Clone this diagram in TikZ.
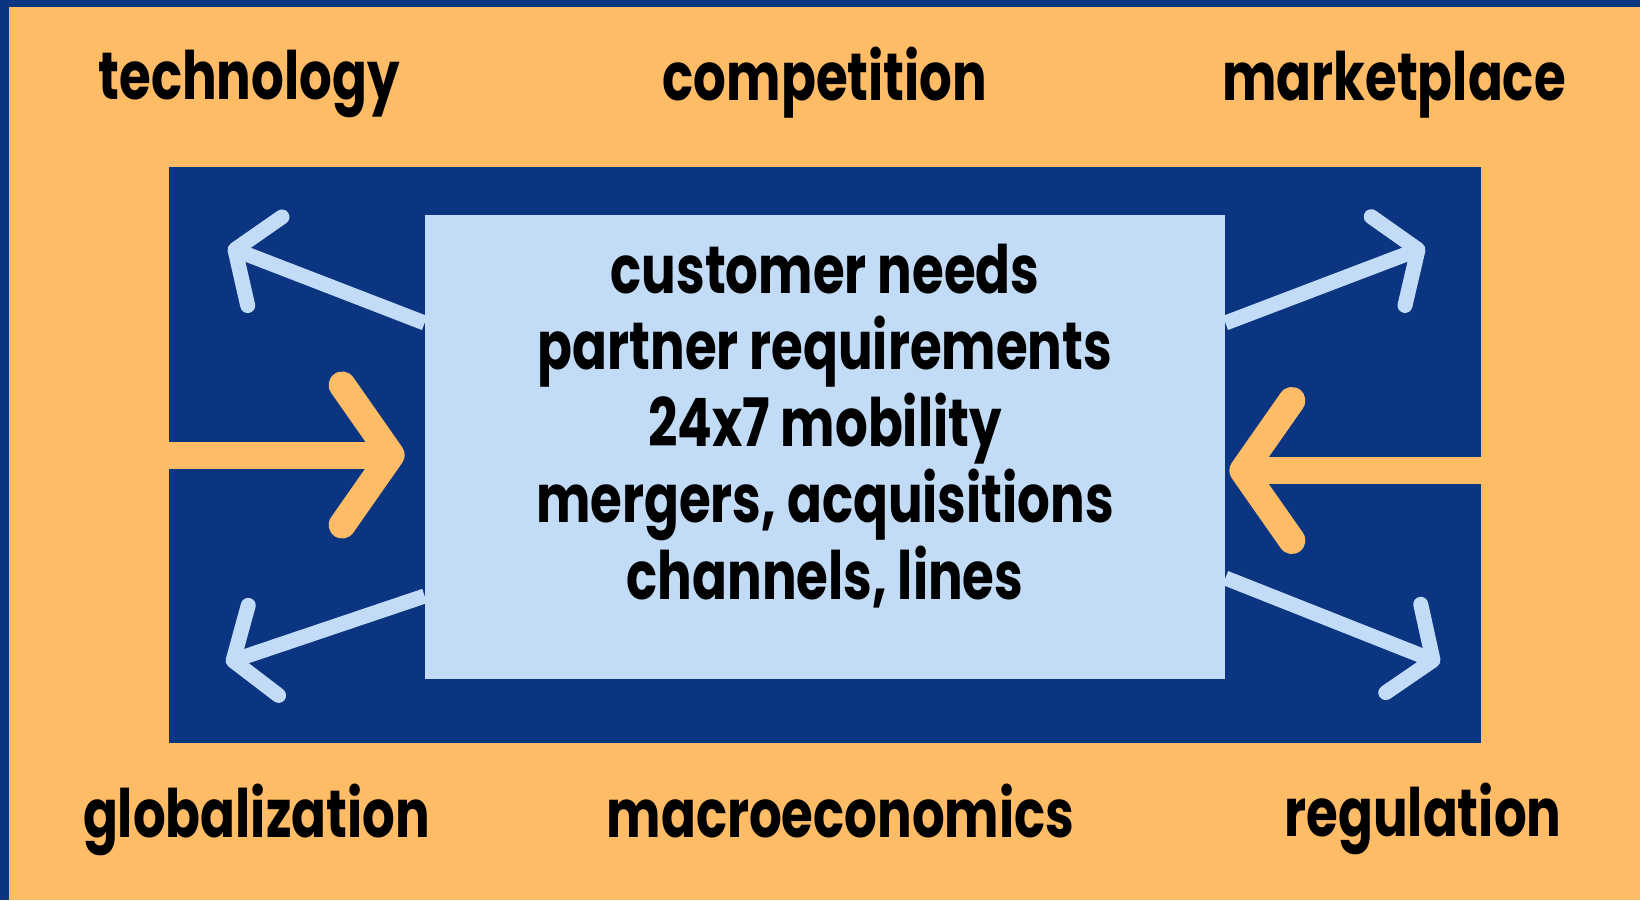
\documentclass[tikz,border=0pt]{standalone}
\usepackage{fontspec}
\setmainfont{Poppins}[FakeStretch=0.77]
\usetikzlibrary{arrows.meta}
\definecolor{sand}{HTML}{FFBC66}
\definecolor{navy}{HTML}{0B3580}
\definecolor{pale}{HTML}{C2DCF7}
\tikzset{
  force/.style={font=\fontsize{38}{42}\selectfont\bfseries, anchor=base},
  outarrow/.style={draw=pale, line width=.3cm, -{Straight Barb[length=.64cm, width=1.9cm, round]}},
  inarrow/.style={draw=sand, line width=.54cm, -{Straight Barb[length=.98cm, width=2.8cm, round]}},
}
\begin{document}
\begin{tikzpicture}
    \fill[sand] (0,0) rectangle (32.8,18);
    \fill[navy] (0,0) rectangle (.18,18);
    \fill[navy] (0,17.86) rectangle (32.8,18);
    \node[fill=navy, minimum width=26.24cm, minimum height=11.52cm, inner sep=0] (field) at (16.5,8.9) {};
    \node[fill=pale, minimum width=16cm, minimum height=9.28cm, inner sep=0] (needs) at (16.5,9.06) {};
    \node[font=\fontsize{38}{43.5}\selectfont\bfseries, align=center] (drivers) at (16.5,9.48)
      {customer needs\\partner requirements\\24x7 mobility\\mergers, acquisitions\\channels, lines};
    % forces pushing in
    \draw[inarrow, shorten >=.4cm] (field.west |- 0,8.9) -- (needs.west |- 0,8.9);
    \draw[inarrow, shorten >=.08cm] (field.east |- 0,8.59) -- (needs.east |- 0,8.59);
    % forces pushing out
    \coordinate (nw) at (4.56,13.06);
    \coordinate (ne) at (28.5,13.06);
    \coordinate (sw) at (4.52,4.74);
    \coordinate (se) at (28.8,4.74);
    \draw[outarrow] (needs.west |- 0,11.54) -- (nw);
    \draw[outarrow] (needs.east |- 0,11.54) -- (ne);
    \draw[outarrow] (needs.west |- 0,6.08) -- (sw);
    \draw[outarrow] (needs.east |- 0,6.44) -- (se);
    \node[force] (tech) at (4.98,16) {technology};
    \node[force] (comp) at (16.5,15.98) {competition};
    \node[force] (market) at (27.88,15.98) {marketplace};
    \node[force] (global) at (5.13,1.26) {globalization};
    \node[force] (macro) at (16.81,1.26) {macroeconomics};
    \node[force] (reg) at (28.46,1.28) {regulation};
  \end{tikzpicture}
\end{document}
